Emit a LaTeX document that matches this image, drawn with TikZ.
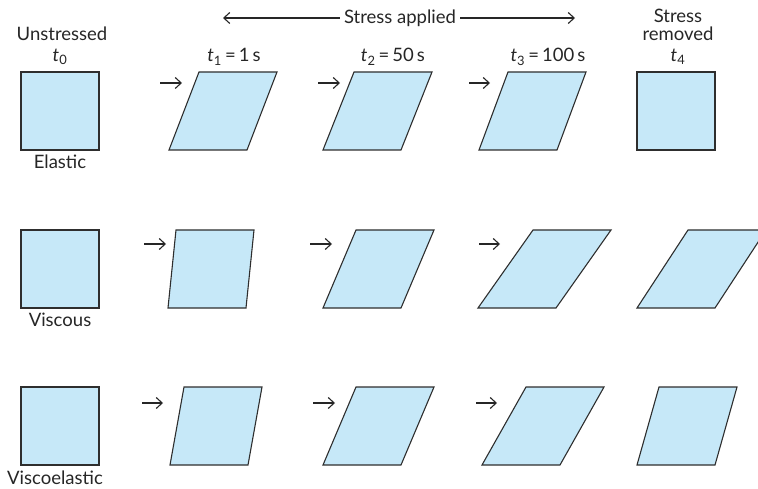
\documentclass[tikz,border=0pt]{standalone}
\usepackage{fontspec}
\setmainfont{Lato}
\usepackage{tikz}
\usetikzlibrary{arrows.meta, positioning}

\definecolor{gelblue}{HTML}{C6E8F8}
\definecolor{edgegray}{HTML}{2E2E2E}

% t_i = value label
\newcommand{\tsym}[1]{{\itshape t}\textsubscript{#1}}
\newcommand{\timelbl}[2]{\tsym{#1}\,=\,#2\,s}

\tikzset{
    sample/.style={draw=edgegray, fill=gelblue, line width=1.1pt, line join=miter},
    push/.style={-{Straight Barb[length=6pt, width=11pt]}, line width=1.1pt, draw=black!85},
    lbl/.style={inner sep=0pt, text=black!85, font=\fontsize{18.5}{20}\selectfont}
}

% sheared block: name, x of bottom-left, y of bottom, shear
\newcommand{\block}[4]{%
    \draw[sample] (#2,#3) -- ++(78,0) -- ++(#4,-78) -- ++(-78,0) -- cycle;
    \coordinate (#1) at (#2,#3);
}

\begin{document}
\begin{tikzpicture}[x=1pt, y=-1pt]

    % =================================================================
    % 1. KHUNG HÌNH
    % =================================================================
    \useasboundingbox (0,0) rectangle (758,489);
    \clip (0,0) rectangle (758,489);

    % =================================================================
    % 2. TIÊU ĐỀ CÁC CỘT
    % =================================================================
    \node[lbl] (unstr) at (62,34) {Unstressed};
    \node[lbl] (tzero) at (60,57) {\tsym{0}};

    \node[lbl] (applied) at (400,18) {Stress applied};
    \coordinate (applL) at (223,18);
    \coordinate (applR) at (575,18);
    \draw[push] (applied.west) ++(-4,0) coordinate (applA) -- (applL);
    \draw[push] (applied.east) ++(4,0) coordinate (applB) -- (applR);

    \node[lbl] (tone)   at (234,57) {\timelbl{1}{1}};
    \node[lbl] (ttwo)   at (393,57) {\timelbl{2}{50}};
    \node[lbl] (tthree) at (548,57) {\timelbl{3}{100}};

    \node[lbl] (remA) at (678,16) {Stress};
    \node[lbl] (remB) at (678,34) {removed};
    \node[lbl] (tfour) at (678,57) {\tsym{4}};

    % =================================================================
    % 3. HÀNG 1: ĐÀN HỒI
    % =================================================================
    \block{ea}{21}{150}{0}
    \block{eb}{169}{150}{30}
    \block{ec}{323}{150}{31}
    \block{ed}{479}{150}{29}
    \block{ee}{637}{150}{0}
    \node[lbl] (elastic) at (60,162) {Elastic};

    \coordinate (e1) at (160,83); \coordinate (e1h) at (182,83);
    \coordinate (e2) at (318,83); \coordinate (e2h) at (340,83);
    \coordinate (e3) at (469,83); \coordinate (e3h) at (490,83);
    \draw[push] (e1) -- (e1h);
    \draw[push] (e2) -- (e2h);
    \draw[push] (e3) -- (e3h);

    % =================================================================
    % 4. HÀNG 2: NHỚT
    % =================================================================
    \block{va}{21}{308}{0}
    \block{vb}{168}{308}{8}
    \block{vc}{323}{308}{33}
    \block{vd}{478}{308}{55}
    \block{ve}{637}{308}{51}
    \node[lbl] (viscous) at (60,320) {Viscous};

    \coordinate (v1) at (144,244); \coordinate (v1h) at (166,244);
    \coordinate (v2) at (310,244); \coordinate (v2h) at (332,244);
    \coordinate (v3) at (479,244); \coordinate (v3h) at (500,244);
    \draw[push] (v1) -- (v1h);
    \draw[push] (v2) -- (v2h);
    \draw[push] (v3) -- (v3h);

    % =================================================================
    % 5. HÀNG 3: ĐÀN HỒI NHỚT
    % =================================================================
    \block{ca}{21}{465}{0}
    \block{cb}{170}{465}{14}
    \block{cc}{323}{465}{33}
    \block{cd}{482}{465}{44}
    \block{ce}{637}{465}{22}
    \node[lbl] (viscoel) at (55,478) {Viscoelastic};

    \coordinate (c1) at (142,403); \coordinate (c1h) at (163,403);
    \coordinate (c2) at (313,403); \coordinate (c2h) at (335,403);
    \coordinate (c3) at (476,403); \coordinate (c3h) at (497,403);
    \draw[push] (c1) -- (c1h);
    \draw[push] (c2) -- (c2h);
    \draw[push] (c3) -- (c3h);

\end{tikzpicture}
\end{document}
